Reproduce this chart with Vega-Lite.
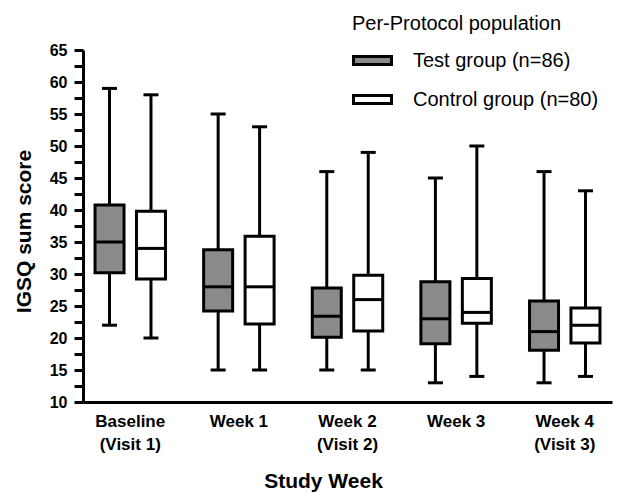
{
  "$schema": "https://vega.github.io/schema/vega-lite/v6.json",
  "autosize": "none",
  "width": 529,
  "height": 352,
  "padding": {"left": 83, "top": 50, "right": 5, "bottom": 90},
  "background": "white",
  "config": {
    "font": "Liberation Sans",
    "view": {"stroke": null},
    "axis": {"grid": false}
  },
  "data": {
    "values": [
      {"week": "Baseline|(Visit 1)", "group": "Test group (n=86)", "min": 22, "q1": 30.2, "median": 35, "q3": 40.8, "max": 59},
      {"week": "Baseline|(Visit 1)", "group": "Control group (n=80)", "min": 20, "q1": 29.2, "median": 34, "q3": 39.8, "max": 58},
      {"week": "Week 1", "group": "Test group (n=86)", "min": 15, "q1": 24.2, "median": 28, "q3": 33.8, "max": 55},
      {"week": "Week 1", "group": "Control group (n=80)", "min": 15, "q1": 22.2, "median": 28, "q3": 35.9, "max": 53},
      {"week": "Week 2|(Visit 2)", "group": "Test group (n=86)", "min": 15, "q1": 20.1, "median": 23.4, "q3": 27.8, "max": 46},
      {"week": "Week 2|(Visit 2)", "group": "Control group (n=80)", "min": 15, "q1": 21.1, "median": 26, "q3": 29.8, "max": 49},
      {"week": "Week 3", "group": "Test group (n=86)", "min": 13, "q1": 19.1, "median": 23, "q3": 28.8, "max": 45},
      {"week": "Week 3", "group": "Control group (n=80)", "min": 14, "q1": 22.3, "median": 24, "q3": 29.3, "max": 50},
      {"week": "Week 4|(Visit 3)", "group": "Test group (n=86)", "min": 13, "q1": 18.1, "median": 21, "q3": 25.8, "max": 46},
      {"week": "Week 4|(Visit 3)", "group": "Control group (n=80)", "min": 14, "q1": 19.2, "median": 22, "q3": 24.7, "max": 43}
    ]
  },
  "encoding": {
    "x": {
      "field": "week",
      "type": "nominal",
      "sort": null,
      "scale": {"paddingInner": 0.13, "paddingOuter": 0},
      "axis": {
        "title": "Study Week",
        "titleFont": "Liberation Sans",
        "titleFontSize": 21,
        "titleFontWeight": "bold",
        "titleColor": "black",
        "titleX": 240,
        "titleY": 85,
        "titleBaseline": "alphabetic",
        "labelExpr": "split(datum.label, '|')",
        "labelAngle": 0,
        "labelFontSize": 17,
        "labelFontWeight": "bold",
        "labelColor": "black",
        "labelLineHeight": 23,
        "labelPadding": 11,
        "ticks": false,
        "domainColor": "black",
        "domainWidth": 3
      }
    },
    "xOffset": {
      "field": "group",
      "type": "nominal",
      "sort": ["Test group (n=86)", "Control group (n=80)"],
      "scale": {"paddingInner": 0, "paddingOuter": 0.14}
    }
  },
  "layer": [
    {
      "mark": {"type": "rule", "color": "black", "strokeWidth": 3},
      "encoding": {
        "y": {
          "field": "min",
          "type": "quantitative",
          "scale": {"domain": [10, 65], "nice": false, "zero": false},
          "axis": null
        },
        "y2": {"field": "max"}
      }
    },
    {
      "mark": {"type": "tick", "color": "black", "opacity": 1, "thickness": 3, "size": 15},
      "encoding": {
        "y": {"field": "min", "type": "quantitative", "axis": null}
      }
    },
    {
      "mark": {"type": "tick", "color": "black", "opacity": 1, "thickness": 3, "size": 15},
      "encoding": {
        "y": {"field": "max", "type": "quantitative", "axis": null}
      }
    },
    {
      "mark": {"type": "bar", "stroke": "black", "strokeWidth": 3, "size": 29, "opacity": 1},
      "encoding": {
        "y": {
          "field": "q1",
          "type": "quantitative",
          "axis": {
            "orient": "left",
            "values": [10, 12.5, 15, 17.5, 20, 22.5, 25, 27.5, 30, 32.5, 35, 37.5, 40, 42.5, 45, 47.5, 50, 52.5, 55, 57.5, 60, 62.5, 65],
            "labelExpr": "datum.value % 5 === 0 ? datum.label : ''",
            "labelOverlap": false,
            "title": "IGSQ sum score",
            "titleFontSize": 21,
            "titleFontWeight": "bold",
            "titleColor": "black",
            "titleX": -53,
            "titleY": 181,
            "titleBaseline": "alphabetic",
            "titleAngle": -90,
            "labelFontSize": 16,
            "labelFontWeight": "bold",
            "labelColor": "black",
            "labelPadding": 7,
            "tickSize": 9,
            "tickWidth": 3,
            "tickColor": "black",
            "domainColor": "black",
            "domainWidth": 3
          }
        },
        "y2": {"field": "q3"},
        "fill": {
          "field": "group",
          "type": "nominal",
          "scale": {"domain": ["Test group (n=86)", "Control group (n=80)"], "range": ["#8a8a8a", "#ffffff"]},
          "legend": {
            "orient": "none",
            "legendX": 269,
            "legendY": -36,
            "title": "Per-Protocol population",
            "titleFontSize": 20,
            "titleFontWeight": "normal",
            "titleColor": "black",
            "titleLimit": 500,
            "titlePadding": 6,
            "labelFontSize": 20,
            "labelColor": "black",
            "labelOffset": 20,
            "labelLimit": 400,
            "rowPadding": 8,
            "symbolType": "M-1,-0.21H1V0.21H-1Z",
            "symbolSize": 1444,
            "symbolStrokeColor": "black",
            "symbolStrokeWidth": 3,
            "symbolOpacity": 1
          }
        }
      }
    },
    {
      "mark": {"type": "tick", "color": "black", "opacity": 1, "thickness": 3, "size": 29},
      "encoding": {
        "y": {"field": "median", "type": "quantitative", "axis": null}
      }
    }
  ],
  "resolve": {"axis": {"y": "independent"}}
}
